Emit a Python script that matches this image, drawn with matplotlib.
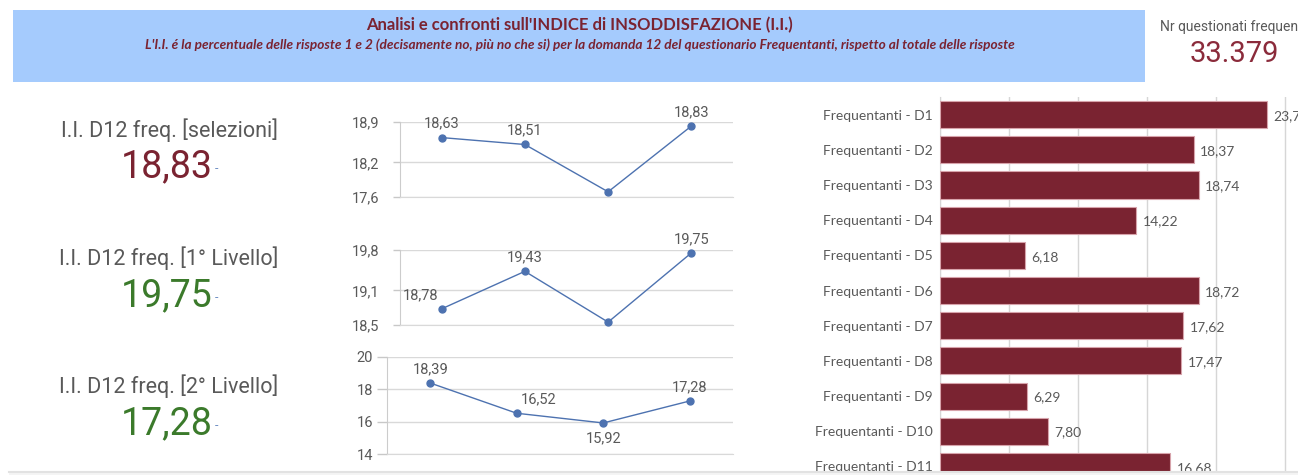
import matplotlib
matplotlib.use("Agg")
import matplotlib.pyplot as plt
from matplotlib.patches import Rectangle
from matplotlib.lines import Line2D

# ---------------- data ----------------
title = "Analisi e confronti sull'INDICE di INSODDISFAZIONE (I.I.)"
subtitle = ("L'I.I. é la percentuale delle risposte 1 e 2 (decisamente no, più no che si) "
            "per la domanda 12 del questionario Frequentanti, rispetto al totale delle risposte")
kpi_title = "Nr questionati frequentanti"
kpi_value = "33.379"

kpi_labels = ["I.I. D12 freq. [selezioni]", "I.I. D12 freq. [1° Livello]", "I.I. D12 freq. [2° Livello]"]
kpi_values = ["18,83", "19,75", "17,28"]

trend_sel = [18.63, 18.51, 17.69, 18.83]
trend_lv1 = [18.78, 19.43, 18.55, 19.75]
trend_lv2 = [18.39, 16.52, 15.92, 17.28]
trend_labels_sel = ["18,63", "18,51", "", "18,83"]
trend_labels_lv1 = ["18,78", "19,43", "", "19,75"]
trend_labels_lv2 = ["18,39", "16,52", "15,92", "17,28"]
ticks_sel = [17.6, 18.2, 18.9]
ticks_lv1 = [18.5, 19.1, 19.8]
ticks_lv2 = [14, 16, 18, 20]
ticklabels_sel = ["17,6", "18,2", "18,9"]
ticklabels_lv1 = ["18,5", "19,1", "19,8"]
ticklabels_lv2 = ["14", "16", "18", "20"]

bar_categories = ["Frequentanti - D1", "Frequentanti - D2", "Frequentanti - D3", "Frequentanti - D4",
                  "Frequentanti - D5", "Frequentanti - D6", "Frequentanti - D7", "Frequentanti - D8",
                  "Frequentanti - D9", "Frequentanti - D10", "Frequentanti - D11"]
bar_values = [23.70, 18.37, 18.74, 14.22, 6.18, 18.72, 17.62, 17.47, 6.29, 7.80, 16.68]
bar_ticks = [0, 5, 10, 15, 20, 25]

# ---------------- style ----------------
W, H = 1298, 475
DARKRED = "#7a2331"
GREEN = "#3b7a2b"
GRAY = "#595959"
GRID = "#d9d9d9"
LINE = "#4d72b0"
BANNER = "#a5cbfd"
SANS = ["Roboto", "DejaVu Sans"]
LATO = ["Lato", "DejaVu Sans"]

plt.rcParams['font.family'] = SANS

fig = plt.figure(figsize=(W / 100, H / 100), dpi=100)
fig.patch.set_facecolor("white")


def fx(x):
    return x / W


def fy(y):
    return 1 - y / H


def box(x0, y0, x1, y1):
    return [fx(x0), fy(y1), fx(x1) - fx(x0), fy(y0) - fy(y1)]


# banner
fig.add_artist(Rectangle((fx(13), fy(82)), fx(1145) - fx(13), fy(10) - fy(82),
                         transform=fig.transFigure, facecolor=BANNER, edgecolor="none", zorder=0))
fig.text(fx(579), fy(25), title, ha="center", va="center", color=DARKRED,
         fontsize=12, fontweight="bold", family=LATO)
fig.text(fx(580), fy(45), subtitle, ha="center", va="center", color=DARKRED,
         fontsize=9.8, fontweight="bold", fontstyle="italic", family=LATO)

# KPI top right
fig.text(fx(1160), fy(27), kpi_title, ha="left", va="center", color=GRAY, fontsize=10)
fig.text(fx(1234), fy(54), kpi_value, ha="center", va="center", color="#8b2b3b", fontsize=21)

# left KPI texts
label_y = [130, 258, 386]
value_y = [167, 296, 424]
value_colors = [DARKRED, GREEN, GREEN]
for lab, val, ly, vy, c in zip(kpi_labels, kpi_values, label_y, value_y, value_colors):
    fig.text(fx(169), fy(ly), lab, ha="center", va="center", color=GRAY, fontsize=15.5)
    fig.text(fx(167), fy(vy), val, ha="center", va="center", color=c, fontsize=27)
    fig.text(fx(215), fy(vy + 2), "-", ha="left", va="center", color="#6f8fc4", fontsize=9)

# line charts
line_specs = [
    (box(400, 122, 733, 197), trend_sel, trend_labels_sel, ticks_sel, ticklabels_sel,
     [(0, 10), (0, 10), (0, 10), (0, 10)], 5, 10),
    (box(400, 250, 733, 325), trend_lv1, trend_labels_lv1, ticks_lv1, ticklabels_lv1,
     [(-15, 9.5), (0, 10), (0, 10), (0, 10)], 5, 10),
    (box(387, 357, 733, 454), trend_lv2, trend_labels_lv2, ticks_lv2, ticklabels_lv2,
     [(0, 10), (16, 10), (0, -11), (0, 10)], 7, 3),
]
for rect, vals, labs, ticks, tlabs, offs, tlen, tpad in line_specs:
    ax = fig.add_axes(rect)
    ax.set_facecolor("none")
    xs = list(range(len(vals)))
    ax.plot(xs, vals, color=LINE, lw=1.0, marker="o", markersize=5, zorder=3, clip_on=False)
    ax.set_xlim(-0.5, len(vals) - 0.5)
    ax.set_ylim(ticks[0], ticks[-1])
    ax.set_yticks(ticks)
    ax.set_yticklabels(tlabs)
    ax.set_xticks([])
    ax.tick_params(axis="y", colors="#c8c8c8", labelcolor=GRAY, labelsize=10.5,
                   length=tlen, width=1, pad=tpad)
    ax.grid(axis="y", color=GRID, lw=1)
    for s in ["top", "right"]:
        ax.spines[s].set_visible(False)
    ax.spines["left"].set_color("#cccccc")
    ax.spines["bottom"].set_color(GRID)
    for x, v, l, (dx, dy) in zip(xs, vals, labs, offs):
        if l:
            ax.annotate(l, (x, v), xytext=(dx, dy), textcoords="offset points",
                        ha="center", va="center", color=GRAY, fontsize=10.5, annotation_clip=False)

# bar chart
axb = fig.add_axes(box(940, 97, 1298, 471))
axb.set_facecolor("none")
ypos = list(range(len(bar_values)))
axb.barh(ypos, bar_values, height=0.77, color=DARKRED, edgecolor="#d7a3ab", linewidth=0.8, zorder=3)
axb.set_xlim(0, 358 / 13.81)
axb.set_ylim(10.13, -0.5)
axb.set_xticks(bar_ticks)
axb.set_xticklabels([])
axb.tick_params(axis="x", length=0)
axb.set_yticks(ypos)
axb.set_yticklabels(bar_categories, family=LATO, fontsize=10, color=GRAY)
axb.tick_params(axis="y", length=0, pad=5)
axb.grid(axis="x", color="#d6d6d6", lw=1, zorder=0)
for s in ["top", "right", "bottom"]:
    axb.spines[s].set_visible(False)
axb.spines["left"].set_color("#d6d6d6")
for y, v in zip(ypos, bar_values):
    axb.annotate(f"{v:.2f}".replace(".", ","), (v, y), xytext=(4.5, -1), textcoords="offset points",
                 ha="left", va="center", color=GRAY, fontsize=10, family=LATO, zorder=4,
                 annotation_clip=False)

# bottom separator
fig.add_artist(Rectangle((fx(9), 0), 1 - fx(9), fy(471), transform=fig.transFigure,
                         facecolor="#f4f4f4", edgecolor="none", zorder=5))
fig.add_artist(Line2D([fx(9), 1], [fy(472), fy(472)], transform=fig.transFigure,
                      color="#e2e2e2", lw=1.5, zorder=6))

fig.savefig("out.png", dpi=100, facecolor="white")
